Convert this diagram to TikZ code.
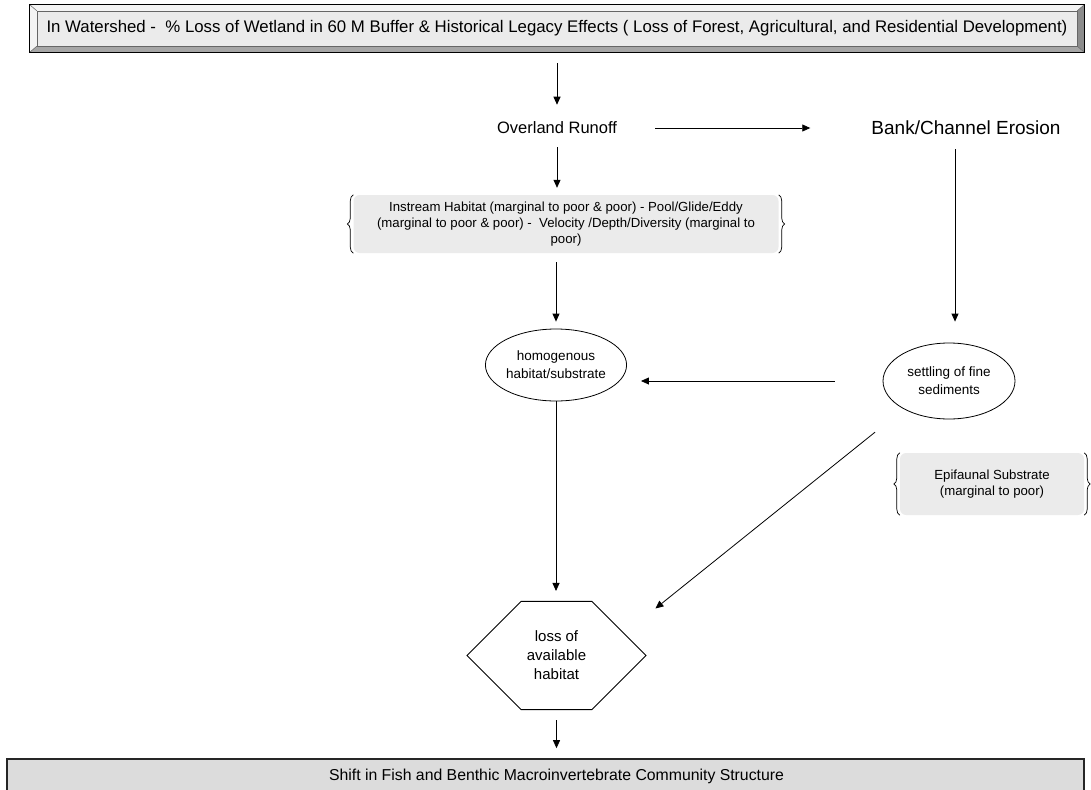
\documentclass[tikz,border=0pt]{standalone}
\usepackage{fontspec}
\setmainfont{Liberation Sans}
\usetikzlibrary{positioning, arrows.meta, shapes.geometric, shapes.misc, calc, decorations.pathreplacing}

\definecolor{panel}{HTML}{EBEBEB}
\definecolor{basefill}{HTML}{DCDCDC}
\definecolor{bevellight}{HTML}{F4F4F4}
\definecolor{beveldark}{HTML}{8C8C8C}
\definecolor{bevelmid}{HTML}{A6A6A6}

\begin{document}
\begin{tikzpicture}[
  x=1pt, y=-1pt,
  arr/.style={-{Triangle[length=8pt, width=7pt]}, line width=0.8pt},
  label/.style={font=\fontsize{16.5}{19}\selectfont, inner sep=2pt},
  headbox/.style={fill=panel, minimum width=1040pt, minimum height=35pt, inner sep=0pt, font=\fontsize{16.8}{19}\selectfont},
  basebox/.style={draw=black!85, line width=1.6pt, fill=basefill, minimum width=1077pt, minimum height=34pt, inner sep=0pt, font=\fontsize{15.8}{18}\selectfont},
  bracebox/.style={fill=panel, rounded corners=6pt, align=center, inner sep=0pt},
  brace/.style={decorate, decoration={brace, amplitude=6pt}, line width=0.7pt},
  oval/.style={draw, ellipse, line width=0.8pt, inner sep=0pt, align=center, font=\fontsize{13.5}{18}\selectfont},
  hexa/.style={draw, chamfered rectangle, chamfered rectangle xsep=44pt, chamfered rectangle ysep=44.4pt, minimum width=179pt, minimum height=89pt, inner sep=0pt, line width=0.8pt, align=center, font=\fontsize{15}{19}\selectfont}
]
\useasboundingbox (0,0) rectangle (1091,789);

% Top beveled box
\node[headbox] (head) at (557,28.5) {In Watershed -~ \% Loss of Wetland in 60 M Buffer \& Historical Legacy Effects ( Loss of Forest, Agricultural, and Residential Development)};
\coordinate (hoNW) at ($(head.north west)+(-7,-6)$);
\coordinate (hoSE) at ($(head.south east)+(7,6)$);
\coordinate (hoNE) at (hoSE |- hoNW);
\coordinate (hoSW) at (hoNW |- hoSE);
\fill[bevellight] (hoNW) -- (hoNE) -- (head.north east) -- (head.north west) -- (head.south west) -- (hoSW) -- cycle;
\fill[beveldark] (hoNE) -- (hoSE) -- (head.south east) -- (head.north east) -- cycle;
\fill[bevelmid] (hoSW) -- (hoSE) -- (head.south east) -- (head.south west) -- cycle;
\draw[black!60, line width=0.5pt] (hoNW) -- (head.north west) (hoNE) -- (head.north east)
  (hoSW) -- (head.south west) (hoSE) -- (head.south east);
\draw[black!60, line width=0.5pt] (head.north west) rectangle (head.south east);
\draw[line width=0.8pt] (hoNW) rectangle (hoSE);

% Runoff and erosion
\node[label] (overland) at (557,128) {Overland Runoff};
\node[label, font=\fontsize{19}{22}\selectfont] (bank) at (966,128) {Bank/Channel Erosion};

% Habitat notes
\node[bracebox, minimum width=425pt, minimum height=58pt, font=\fontsize{13.2}{16}\selectfont] (instream) at (566,224)
  {Instream Habitat (marginal to poor \& poor) - Pool/Glide/Eddy\\(marginal to poor \& poor) -~ Velocity /Depth/Diversity (marginal to\\poor)};
\node[bracebox, minimum width=184pt, minimum height=62pt, font=\fontsize{13.2}{15.5}\selectfont] (epi) at (992,484)
  {Epifaunal Substrate\\(marginal to poor)};
\foreach \b in {instream, epi} {
  \draw[brace] (\b.south west) -- (\b.north west);
  \draw[brace] (\b.north east) -- (\b.south east);
}

% Ovals and hexagon
\node[oval, minimum width=140pt, minimum height=72pt] (homog) at (556,365) {homogenous\\habitat/substrate};
\node[oval, minimum width=132pt, minimum height=76pt] (settle) at (949,381) {settling of fine\\sediments};
\node[hexa] (hex) at (556.5,655.5) {loss of\\available\\habitat};

% Bottom box
\node[basebox] (base) at (545.5,776) {\hspace*{22pt}Shift in Fish and Benthic Macroinvertebrate Community Structure};

% Connectors
\draw[arr, shorten <=17pt, shorten >=15pt] (head.south -| overland) -- (overland.north);
\draw[arr, shorten <=36pt, shorten >=59pt] (overland.east) -- (bank.west);
\draw[arr, shorten <=11pt, shorten >=7pt] (overland.south) -- (overland.south |- instream.north);
\draw[arr, shorten <=9pt, shorten >=7pt] (instream.south -| homog.north) -- (homog.north);
\draw[arr, shorten <=12pt, shorten >=21pt] ([xshift=-11pt]bank.south) -- ([xshift=-11pt]bank.south |- settle.north);
\draw[arr, shorten <=48pt, shorten >=14pt] (settle.west) -- (settle.west -| homog.east);
\draw[arr] ([shift={(-27pt,-24pt)}]settle.south west) -- ([shift={(9pt,47pt)}]hex.east);
\draw[arr, shorten >=10pt] (homog.south) -- (homog.south |- hex.north);
\draw[arr, shorten <=10pt, shorten >=10pt] (hex.south) -- (hex.south |- base.north);

\end{tikzpicture}
\end{document}
